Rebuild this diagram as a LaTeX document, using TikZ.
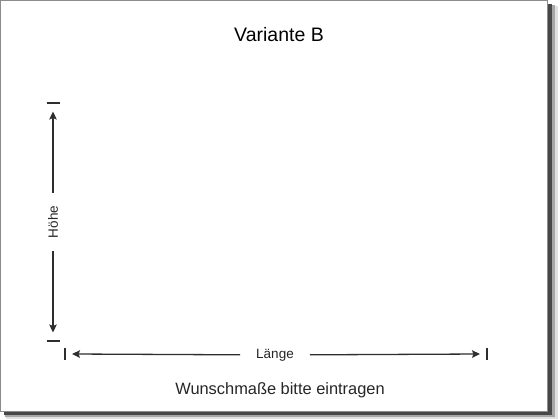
\documentclass[tikz,border=0pt]{standalone}
\usepackage{fontspec}
\setmainfont{Liberation Sans}
\usetikzlibrary{positioning,arrows.meta}

\begin{document}
\begin{tikzpicture}[x=1pt,y=-1pt,>={Stealth[length=8pt,width=7.5pt,inset=1.5pt]},
      mass/.style={draw=black!82,line width=1.3pt},
      schild/.style={fill=white,inner xsep=13pt,inner ysep=3pt,text=black!85,
        font=\fontsize{13.5}{16}\selectfont}]
			\useasboundingbox (0,0) rectangle (560,420);
			% schatten und rahmen
			\fill[black!12] (6,6) rectangle (558,419);
			\fill[black!35] (5,5) rectangle (555,417);
			\fill[black!72] (4,4) rectangle (552,415);
			\draw[fill=white,draw=black!45,line width=1pt] (0.5,0.5) rectangle (547,411);
			\node[font=\fontsize{19.5}{22}\selectfont] (titel) at (279,35) {Variante B};
			\node[font=\fontsize{16.4}{19}\selectfont,text=black!85] (hinweis) at (280,390) {Wunschmaße bitte eintragen};
			% hoehe
			\node[schild,rotate=90] (hoehe) at (53,222) {Höhe};
			\coordinate (hoben) at (53,103);
			\coordinate (hunten) at (53,341);
			\coordinate (hspitzeoben) at ([yshift=-8.5pt]hoben);
			\coordinate (hspitzeunten) at ([yshift=8.5pt]hunten);
			\draw[mass] ([xshift=-6.5pt]hoben) -- ([xshift=6.5pt]hoben);
			\draw[mass] ([xshift=-6.5pt]hunten) -- ([xshift=6.5pt]hunten);
			\draw[mass,->] (hoehe) -- (hspitzeoben);
			\draw[mass,->] (hoehe) -- (hspitzeunten);
			% laenge
			\node[schild,inner xsep=16pt] (laenge) at (275,355) {Länge};
			\coordinate (llinks) at (65,354);
			\coordinate (lrechts) at (487,354);
			\coordinate (lspitzelinks) at ([xshift=7pt]llinks);
			\coordinate (lspitzerechts) at ([xshift=-7pt]lrechts);
			\draw[mass] ([yshift=-6pt]llinks) -- ([yshift=6pt]llinks);
			\draw[mass] ([yshift=-6pt]lrechts) -- ([yshift=6pt]lrechts);
			\draw[mass,->] (laenge) -- (lspitzelinks);
			\draw[mass,->] (laenge) -- (lspitzerechts);
		\end{tikzpicture}
\end{document}
